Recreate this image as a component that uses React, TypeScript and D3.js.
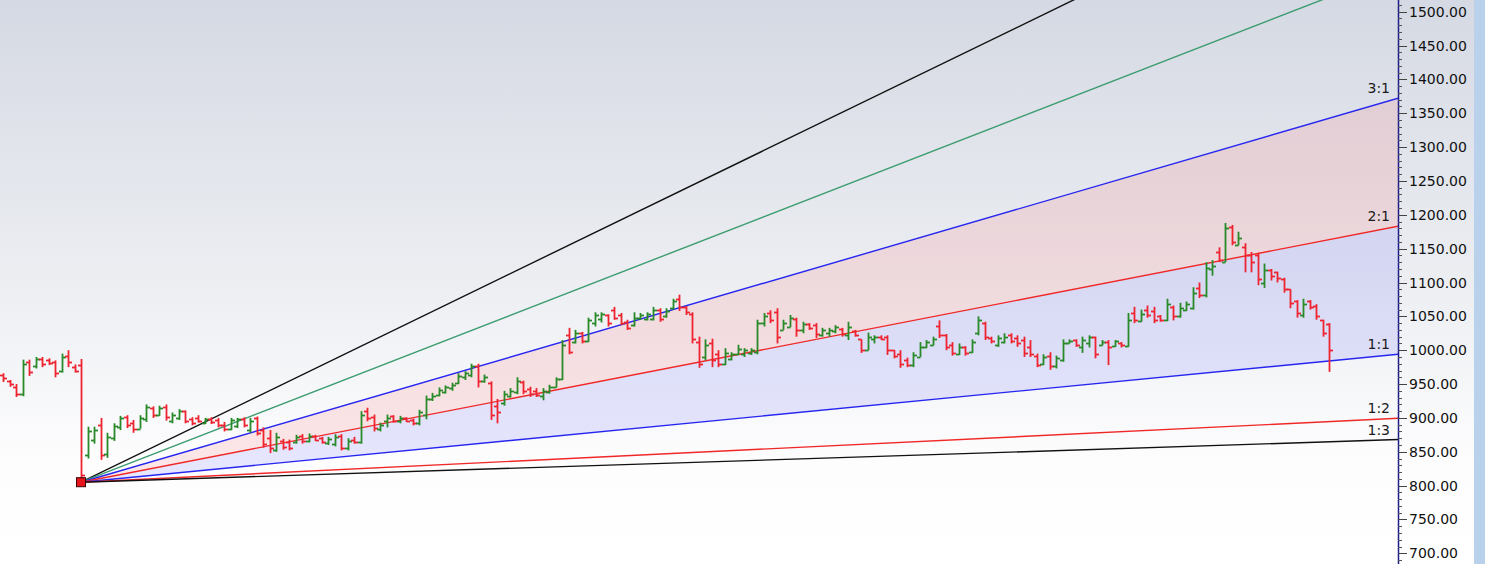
import React from 'react';
import * as d3 from 'd3';

const W = 1485;
const H = 564;

// bar index of the first bar (bars before the fan origin are negative)
const FIRST_INDEX = -12;

const opens = [
  963, 955, 946, 935, 982, 976, 987, 986, 982, 970, 992, 975,
  978, 845, 868, 890, 846, 870, 886, 902, 893, 884,
  898, 914, 905, 916, 896, 900, 910, 899, 900, 893,
  899, 897, 890, 884, 888, 899, 882, 900, 882, 870,
  853, 866, 864, 865, 874, 866, 874, 870, 863, 862,
  874, 855, 867, 864, 910, 902, 884, 895, 903, 895,
  900, 897, 892, 905, 928, 934, 938, 944, 952, 960,
  964, 976, 955, 952, 918, 922, 932, 938, 953, 943,
  940, 932, 938, 945, 958, 1022, 1012, 1026, 1014, 1040,
  1046, 1052, 1060, 1052, 1042, 1037, 1047, 1046, 1046, 1060,
  1050, 1062, 1076, 1064, 1054, 1012, 990, 1010, 995, 980,
  987, 994, 995, 996, 998, 1040, 1055, 1056, 1030, 1035,
  1046, 1030, 1038, 1037, 1023, 1025, 1028, 1032, 1022, 1029,
  1016, 1000, 1016, 1020, 1020, 1000, 995, 985, 978, 990,
  1005, 1008, 1036, 1022, 1008, 995, 1004, 998, 1025, 1040,
  1018, 1008, 1012, 1022, 1018, 1015, 1005, 992, 980, 992,
  976, 985, 1010, 1015, 1005, 1010, 1020, 1008, 1012, 1006,
  1011, 1006, 1055, 1043, 1060, 1058, 1050, 1045, 1064, 1050,
  1060, 1062, 1092, 1082, 1120, 1145, 1130, 1182, 1155, 1152,
  1140, 1140, 1100, 1118, 1115, 1105, 1090, 1072, 1052, 1072,
  1066, 1045, 1038,
];

const highs = [
  966, 956, 950, 986, 986, 990, 990, 988, 985, 995, 1000, 979,
  987, 887, 887, 900, 878, 892, 903, 904, 897, 904,
  920, 917, 918, 920, 908, 913, 911, 901, 904, 900,
  901, 900, 894, 900, 900, 901, 900, 902, 886, 882,
  878, 869, 868, 875, 876, 877, 875, 872, 872, 876,
  876, 870, 872, 910, 915, 905, 893, 905, 904, 903,
  901, 899, 912, 933, 937, 945, 948, 952, 966, 969,
  980, 980, 964, 954, 928, 940, 944, 960, 955, 946,
  944, 944, 949, 960, 1015, 1033, 1030, 1027, 1048, 1056,
  1056, 1053, 1064, 1055, 1045, 1056, 1055, 1056, 1064, 1062,
  1062, 1076, 1082, 1065, 1056, 1020, 1016, 1017, 1000, 1003,
  997, 1008, 1003, 1003, 1045, 1055, 1059, 1062, 1045, 1052,
  1048, 1042, 1040, 1040, 1033, 1033, 1037, 1033, 1042, 1030,
  1016, 1026, 1022, 1022, 1022, 1000, 1000, 989, 997, 1012,
  1015, 1020, 1044, 1024, 1012, 1010, 1006, 1016, 1050, 1042,
  1020, 1022, 1025, 1025, 1022, 1020, 1015, 995, 994, 997,
  992, 1016, 1016, 1016, 1020, 1022, 1020, 1015, 1015, 1015,
  1012, 1055, 1064, 1060, 1066, 1064, 1052, 1076, 1066, 1070,
  1072, 1093, 1100, 1130, 1133, 1152, 1188, 1185, 1175, 1158,
  1145, 1144, 1128, 1120, 1116, 1107, 1090, 1074, 1076, 1074,
  1068, 1045, 1040,
];

const lows = [
  953, 946, 931, 932, 962, 973, 975, 978, 960, 967, 975, 967,
  805, 840, 862, 838, 841, 866, 882, 885, 878, 884,
  894, 900, 903, 896, 892, 897, 892, 889, 893, 891,
  891, 886, 880, 882, 885, 886, 878, 874, 856, 848,
  850, 853, 852, 862, 862, 864, 866, 862, 860, 858,
  852, 852, 862, 862, 895, 880, 880, 886, 893, 892,
  894, 889, 889, 898, 925, 932, 936, 940, 950, 956,
  960, 945, 952, 897, 892, 918, 930, 935, 935, 931,
  931, 926, 936, 945, 956, 994, 1010, 1010, 1012, 1035,
  1041, 1035, 1045, 1037, 1030, 1035, 1045, 1044, 1044, 1042,
  1048, 1060, 1058, 1052, 1010, 974, 985, 975, 975, 978,
  985, 993, 990, 993, 994, 1035, 1040, 1010, 1030, 1034,
  1020, 1025, 1030, 1018, 1020, 1020, 1025, 1020, 1015, 1020,
  996, 1000, 1010, 1015, 993, 988, 974, 975, 975, 990,
  1003, 1007, 1018, 1000, 992, 993, 992, 996, 1022, 1015,
  1010, 1005, 1010, 1010, 1005, 990, 990, 975, 978, 971,
  973, 983, 1010, 1005, 996, 1004, 988, 1007, 978, 1005,
  1004, 1005, 1040, 1042, 1048, 1040, 1042, 1043, 1044, 1048,
  1058, 1060, 1077, 1078, 1110, 1130, 1130, 1155, 1155, 1115,
  1115, 1096, 1092, 1103, 1100, 1085, 1062, 1048, 1048, 1060,
  1045, 1020, 968,
];

const closes = [
  959, 950, 935, 980, 968, 987, 980, 981, 966, 990, 982, 970,
  815, 880, 882, 845, 872, 888, 900, 890, 883, 900,
  916, 905, 914, 902, 904, 910, 896, 892, 896, 899,
  894, 889, 883, 897, 898, 889, 896, 878, 862, 855,
  872, 857, 856, 872, 866, 873, 868, 864, 869, 872,
  856, 866, 864, 905, 900, 885, 890, 900, 896, 900,
  896, 892, 908, 928, 933, 941, 945, 948, 962, 966,
  976, 955, 960, 905, 908, 935, 940, 955, 940, 936,
  934, 940, 945, 957, 1008, 998, 1026, 1014, 1044, 1052,
  1053, 1040, 1048, 1040, 1033, 1048, 1052, 1054, 1060, 1046,
  1058, 1072, 1064, 1056, 1016, 980, 1008, 985, 980, 996,
  994, 1002, 1000, 1000, 1040, 1050, 1045, 1020, 1040, 1048,
  1030, 1038, 1033, 1024, 1030, 1030, 1034, 1024, 1035, 1022,
  1000, 1020, 1020, 1017, 1000, 992, 980, 978, 993, 1005,
  1012, 1016, 1022, 1005, 996, 1005, 996, 1012, 1044, 1020,
  1013, 1018, 1020, 1014, 1010, 996, 995, 978, 990, 976,
  988, 1010, 1014, 1008, 1015, 1020, 995, 1012, 1005, 1013,
  1007, 1045, 1045, 1054, 1052, 1045, 1045, 1068, 1050, 1062,
  1068, 1085, 1082, 1122, 1125, 1133, 1180, 1160, 1165, 1140,
  1130, 1105, 1118, 1110, 1107, 1090, 1070, 1055, 1068, 1064,
  1050, 1025, 1000,
];

// Gann fan: anchored at the low of the crash bar
const fanOriginIndex = 0;
const fanOriginPrice = 805;
const fanUnitPerBar = 0.933; // price change per bar of the 1:1 line
const fanRatios = [5, 4, 3, 2, 1, 1 / 2, 1 / 3];
const fanLabels = ['', '', '3:1', '2:1', '1:1', '1:2', '1:3'];
const fanColors = ['#111111', '#3d9c70', '#2626f0', '#f02828', '#2626f0', '#f02828', '#111111'];

const majorTicks = d3.range(700, 1501, 50);
const minorTicks = d3.range(690, 1520, 10);

const LAST_INDEX = FIRST_INDEX + closes.length - 1;

export default function App() {
  const axisX = 1398;
  const x = d3.scaleLinear().domain([0, LAST_INDEX]).range([81, 1329]);
  const y = d3.scaleLinear().domain([700, 1500]).range([553.3, 11.7]);
  const endIndex = x.invert(axisX);

  const fanPrice = (r: number, i: number) =>
    fanOriginPrice + r * fanUnitPerBar * (i - fanOriginIndex);

  const ox = x(fanOriginIndex);
  const oy = y(fanOriginPrice);
  const endPt = (r: number) => [axisX, y(fanPrice(r, endIndex))];

  const band = (r1: number, r2: number) => {
    const a = endPt(r1);
    const b = endPt(r2);
    return `M${ox},${oy}L${a[0]},${a[1]}L${b[0]},${b[1]}Z`;
  };

  const bars = closes.map((c, k) => {
    const i = FIRST_INDEX + k;
    const o = opens[k];
    const hi = highs[k];
    const lo = lows[k];
    const col = c >= o ? '#2a8a2a' : '#ee2430';
    const bx = Math.round(x(i)) + 0.5;
    return (
      <g key={k} stroke={col} strokeWidth={1.8}>
        <line x1={bx} x2={bx} y1={y(hi)} y2={y(lo)} />
        <line x1={bx - 3.5} x2={bx} y1={Math.round(y(o)) + 0.5} y2={Math.round(y(o)) + 0.5} />
        <line x1={bx} x2={bx + 3.5} y1={Math.round(y(c)) + 0.5} y2={Math.round(y(c)) + 0.5} />
      </g>
    );
  });

  return (
    <svg
      width={W}
      height={H}
      style={{ position: 'absolute', left: 0, top: 0, display: 'block' }}
      fontFamily="DejaVu Sans, Verdana, sans-serif"
    >
      <defs>
        <linearGradient id="bg" x1="0" y1="0" x2="0" y2="1">
          <stop offset="0" stopColor="#d5d9e3" />
          <stop offset="0.5" stopColor="#eceef2" />
          <stop offset="0.82" stopColor="#fdfdfe" />
          <stop offset="1" stopColor="#ffffff" />
        </linearGradient>
        <clipPath id="plot">
          <rect x={0} y={0} width={axisX} height={H} />
        </clipPath>
      </defs>
      <rect x={0} y={0} width={W} height={H} fill="url(#bg)" />
      <rect x={1474} y={0} width={W - 1474} height={H} fill="#b9d1ea" />

      <g clipPath="url(#plot)">
        <path d={band(3, 2)} fill="rgba(255,90,90,0.14)" />
        <path d={band(2, 1)} fill="rgba(90,90,255,0.14)" />
        {fanRatios.map((r, j) => {
          const e = endPt(r);
          return (
            <line
              key={j}
              x1={ox}
              y1={oy}
              x2={e[0]}
              y2={e[1]}
              stroke={fanColors[j]}
              strokeWidth={1.4}
            />
          );
        })}
        {bars}
        <rect x={ox - 4.5} y={oy - 4.5} width={9} height={9} fill="#e8141c" stroke="#3a0000" strokeWidth={1} />
      </g>

      {fanRatios.map((r, j) =>
        fanLabels[j] ? (
          <text
            key={'l' + j}
            x={1390}
            y={endPt(r)[1] - 5}
            textAnchor="end"
            fontSize={14}
            fill="#1a1a1a"
          >
            {fanLabels[j]}
          </text>
        ) : null
      )}

      <line x1={axisX + 0.5} x2={axisX + 0.5} y1={0} y2={H} stroke="#1c1c8a" strokeWidth={1.5} />
      {minorTicks.map((t) => (
        <line
          key={'m' + t}
          x1={axisX}
          x2={axisX + 4}
          y1={Math.round(y(t)) + 0.5}
          y2={Math.round(y(t)) + 0.5}
          stroke="#555"
          strokeWidth={1}
        />
      ))}
      {majorTicks.map((t) => (
        <g key={'t' + t}>
          <line
            x1={axisX}
            x2={axisX + 9}
            y1={Math.round(y(t)) + 0.5}
            y2={Math.round(y(t)) + 0.5}
            stroke="#444"
            strokeWidth={1}
          />
          <text x={axisX + 11} y={y(t)} dy="0.36em" fontSize={14} fill="#111">
            {t.toFixed(2)}
          </text>
        </g>
      ))}
    </svg>
  );
}
